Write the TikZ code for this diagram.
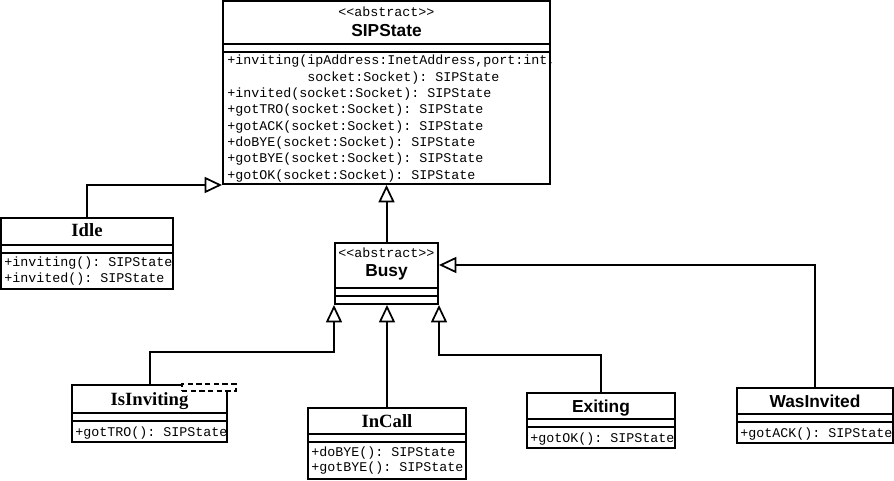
\documentclass[tikz,border=0pt]{standalone}
\usepackage{fontspec}
\setmainfont{Liberation Serif}
\setsansfont{Liberation Sans}
\setmonofont{Liberation Mono}
\usetikzlibrary{arrows.meta,fit}
\begin{document}
\begin{tikzpicture}[x=0.75pt,y=-0.75pt,
  box/.style={draw, line width=1.5pt, inner sep=0pt, fill=white},
  sep/.style={line width=1.5pt},
  mth/.style={anchor=base west, inner sep=0pt, font=\ttfamily\fontsize{10}{12}\selectfont},
  ster/.style={anchor=base, inner sep=0pt, font=\ttfamily\fontsize{10}{12}\selectfont},
  ttlsans/.style={anchor=base, inner sep=0pt, font=\sffamily\bfseries\fontsize{13}{15}\selectfont},
  ttlserif/.style={anchor=base, inner sep=0pt, font=\rmfamily\bfseries\fontsize{14}{16}\selectfont},
  gen/.style={line width=1.5pt, -{Triangle[open,length=13pt,width=12pt,line width=1.3pt]}},
  tmpl/.style={draw, line width=1.5pt, inner sep=0pt, fill=white, dash pattern=on 4pt off 2.5pt}]
\useasboundingbox (0,0) rectangle (894,481);

% SIPState
\node[box, fit={(223,1) (550,184)}] (sip) {};
\draw[sep] (sip.west |- 0,44) -- (sip.east |- 0,44);
\draw[sep] (sip.west |- 0,52) -- (sip.east |- 0,52);
\node[ster] (sipst) at (386.5,17) {<<abstract>>};
\node[ttlsans] (sipt) at (386.5,37) {SIPState};
\node[mth] (sipm0) at (227,65) {+inviting(ipAddress:InetAddress,port:int,};
\node[mth] (sipm1) at (307,81.3) {socket:Socket): SIPState};
\node[mth] (sipm2) at (227,97.6) {+invited(socket:Socket): SIPState};
\node[mth] (sipm3) at (227,113.9) {+gotTRO(socket:Socket): SIPState};
\node[mth] (sipm4) at (227,130.2) {+gotACK(socket:Socket): SIPState};
\node[mth] (sipm5) at (227,146.5) {+doBYE(socket:Socket): SIPState};
\node[mth] (sipm6) at (227,162.8) {+gotBYE(socket:Socket): SIPState};
\node[mth] (sipm7) at (227,179.1) {+gotOK(socket:Socket): SIPState};

% Idle
\node[box, fit={(1,218) (173,289)}] (idle) {};
\draw[sep] (idle.west |- 0,245) -- (idle.east |- 0,245);
\draw[sep] (idle.west |- 0,253) -- (idle.east |- 0,253);
\node[ttlserif] (idlet) at (87,237) {Idle};
\node[mth] (idlem0) at (4,267) {+inviting(): SIPState};
\node[mth] (idlem1) at (4,283) {+invited(): SIPState};

% Busy
\node[box, fit={(335,243) (438,304)}] (busy) {};
\draw[sep] (busy.west |- 0,288) -- (busy.east |- 0,288);
\draw[sep] (busy.west |- 0,296) -- (busy.east |- 0,296);
\node[ster] (busyst) at (386.5,258) {<<abstract>>};
\node[ttlsans] (busyt) at (386.5,277) {Busy};

% IsInviting
\node[box, fit={(72,385) (227,442)}] (isinv) {};
\draw[sep] (isinv.west |- 0,413) -- (isinv.east |- 0,413);
\draw[sep] (isinv.west |- 0,421) -- (isinv.east |- 0,421);
\node[ttlserif] (isinvt) at (149.5,406) {IsInviting};
\node[mth] (isinvm0) at (75,436) {+gotTRO(): SIPState};
\node[tmpl, fit={(182,384) (236,391)}] (isinvtp) {};

% InCall
\node[box, fit={(308,408) (466,479)}] (incall) {};
\draw[sep] (incall.west |- 0,434) -- (incall.east |- 0,434);
\draw[sep] (incall.west |- 0,442) -- (incall.east |- 0,442);
\node[ttlserif] (incallt) at (387,428) {InCall};
\node[mth] (incallm0) at (311,456) {+doBYE(): SIPState};
\node[mth] (incallm1) at (311,472) {+gotBYE(): SIPState};

% Exiting
\node[box, fit={(527,393) (675,448)}] (exit) {};
\draw[sep] (exit.west |- 0,419) -- (exit.east |- 0,419);
\draw[sep] (exit.west |- 0,427) -- (exit.east |- 0,427);
\node[ttlsans] (exitt) at (601,412) {Exiting};
\node[mth] (exitm0) at (530,442) {+gotOK(): SIPState};

% WasInvited
\node[box, fit={(737,388) (893,443)}] (wasinv) {};
\draw[sep] (wasinv.west |- 0,414) -- (wasinv.east |- 0,414);
\draw[sep] (wasinv.west |- 0,422) -- (wasinv.east |- 0,422);
\node[ttlsans] (wasinvt) at (815,407) {WasInvited};
\node[mth] (wasinvm0) at (740,437) {+gotACK(): SIPState};

% generalizations
\draw[gen] (idle.north) |- (sip.south west);
\draw[gen] (busy.north) -- (busy.north |- sip.south);
\draw[gen] (isinv.north) -- (isinv.north |- 0,352) -| (busy.south west);
\draw[gen] (incall.north) -- (incall.north |- busy.south);
\draw[gen] (exit.north) -- (exit.north |- 0,355) -| (busy.south east);
\draw[gen] (wasinv.north) -- (wasinv.north |- 0,265) -- (busy.east |- 0,265);
\end{tikzpicture}
\end{document}
